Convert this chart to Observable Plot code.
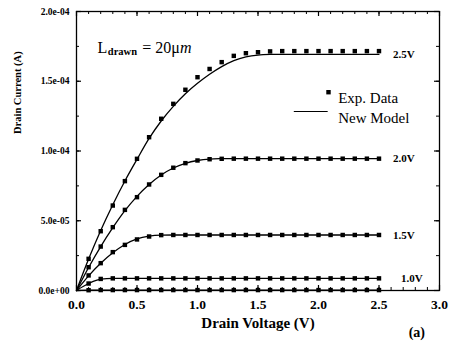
<!DOCTYPE html>
<html><head><meta charset="utf-8">
<script src="https://cdn.jsdelivr.net/npm/d3@7"></script>
<script src="https://cdn.jsdelivr.net/npm/@observablehq/plot@0.6"></script>
<style>body{margin:0;background:#fff} #chart{width:452px;height:356px;position:relative} #chart svg text{font-family:"Liberation Serif","Times New Roman",serif}</style>
</head><body><div id="chart"></div>
<script>
// Drain voltage sample points (V)
const drainV = [0.0,0.1,0.2,0.3,0.4,0.5,0.6,0.7,0.8,0.9,1.0,1.1,1.2,1.3,1.4,1.5,1.6,1.7,1.8,1.9,2.0,2.1,2.2,2.3,2.4,2.5];
const gateNames = ["2.5V","2.0V","1.5V","1.0V","0.5V"];
// Experimental data (A), at drainV[1..25]
const exp25 = [2.27e-5,4.25e-5,6.09e-5,7.84e-5,9.44e-5,1.099e-4,1.231e-4,1.338e-4,1.439e-4,1.529e-4,1.588e-4,1.637e-4,1.682e-4,1.701e-4,1.708e-4,1.714e-4,1.716e-4,1.716e-4,1.716e-4,1.716e-4,1.716e-4,1.716e-4,1.716e-4,1.716e-4,1.716e-4];
const exp20 = [1.67e-5,3.15e-5,4.54e-5,5.78e-5,6.69e-5,7.60e-5,8.29e-5,8.80e-5,9.13e-5,9.32e-5,9.41e-5,9.44e-5,9.45e-5,9.45e-5,9.45e-5,9.45e-5,9.45e-5,9.45e-5,9.45e-5,9.45e-5,9.45e-5,9.45e-5,9.45e-5,9.45e-5,9.45e-5];
const exp15 = [1.08e-5,1.96e-5,2.75e-5,3.27e-5,3.66e-5,3.87e-5,3.97e-5,3.98e-5,3.98e-5,3.98e-5,3.98e-5,3.98e-5,3.98e-5,3.98e-5,3.98e-5,3.98e-5,3.98e-5,3.98e-5,3.98e-5,3.98e-5,3.98e-5,3.98e-5,3.98e-5,3.98e-5,3.98e-5];
const exp10 = [5.0e-6,8.3e-6,8.7e-6,8.7e-6,8.7e-6,8.7e-6,8.7e-6,8.7e-6,8.7e-6,8.7e-6,8.7e-6,8.7e-6,8.7e-6,8.7e-6,8.7e-6,8.7e-6,8.7e-6,8.7e-6,8.7e-6,8.7e-6,8.7e-6,8.7e-6,8.7e-6,8.7e-6,8.7e-6];
const exp05 = [2e-7,3e-7,3e-7,3e-7,3e-7,3e-7,3e-7,3e-7,3e-7,3e-7,3e-7,3e-7,3e-7,3e-7,3e-7,3e-7,3e-7,3e-7,3e-7,3e-7,3e-7,3e-7,3e-7,3e-7,3e-7];
// New model (A), at drainV[0..25]
const model25 = [0,2.25e-5,4.3e-5,6.15e-5,7.85e-5,9.4e-5,1.09e-4,1.215e-4,1.32e-4,1.41e-4,1.485e-4,1.55e-4,1.605e-4,1.648e-4,1.675e-4,1.688e-4,1.692e-4,1.693e-4,1.693e-4,1.693e-4,1.693e-4,1.693e-4,1.693e-4,1.693e-4,1.693e-4,1.693e-4];
const model20 = [0,1.65e-5,3.15e-5,4.5e-5,5.72e-5,6.75e-5,7.6e-5,8.28e-5,8.78e-5,9.12e-5,9.32e-5,9.42e-5,9.45e-5,9.46e-5,9.46e-5,9.46e-5,9.46e-5,9.46e-5,9.46e-5,9.46e-5,9.46e-5,9.46e-5,9.46e-5,9.46e-5,9.46e-5,9.46e-5];
const model15 = [0,1.05e-5,1.95e-5,2.7e-5,3.3e-5,3.7e-5,3.9e-5,3.97e-5,3.98e-5,3.98e-5,3.98e-5,3.98e-5,3.98e-5,3.98e-5,3.98e-5,3.98e-5,3.98e-5,3.98e-5,3.98e-5,3.98e-5,3.98e-5,3.98e-5,3.98e-5,3.98e-5,3.98e-5,3.98e-5];
const model10 = [0,5.0e-6,8.2e-6,8.7e-6,8.7e-6,8.7e-6,8.7e-6,8.7e-6,8.7e-6,8.7e-6,8.7e-6,8.7e-6,8.7e-6,8.7e-6,8.7e-6,8.7e-6,8.7e-6,8.7e-6,8.7e-6,8.7e-6,8.7e-6,8.7e-6,8.7e-6,8.7e-6,8.7e-6,8.7e-6];
const model05 = [0,2e-7,3e-7,3e-7,3e-7,3e-7,3e-7,3e-7,3e-7,3e-7,3e-7,3e-7,3e-7,3e-7,3e-7,3e-7,3e-7,3e-7,3e-7,3e-7,3e-7,3e-7,3e-7,3e-7,3e-7,3e-7];
// Axis ticks
const xTickValues = [0,0.5,1.0,1.5,2.0,2.5,3.0];
const xTickLabels = ["0.0","0.5","1.0","1.5","2.0","2.5","3.0"];
const yTickValues = [0,5e-5,1e-4,1.5e-4,2e-4];
const yTickLabels = ["0.0e+00","5.0e-05","1.0e-04","1.5e-04","2.0e-04"];
const xLabel = "Drain Voltage (V)";
const yLabel = "Drain Current (A)";
const legendNames = ["Exp. Data","New Model"];

const expSeries = [exp25,exp20,exp15,exp10,exp05];
const modelSeries = [model25,model20,model15,model10,model05];
const expRows = [], modelRows = [];
expSeries.forEach((arr,k)=>arr.forEach((v,i)=>expRows.push({vg:gateNames[k], vd:drainV[i+1], id:v})));
modelSeries.forEach((arr,k)=>arr.forEach((v,i)=>modelRows.push({vg:gateNames[k], vd:drainV[i], id:v})));
const curveLabels = gateNames.slice(0,4).map((g,k)=>({g, vd:drainV[drainV.length-1], id:modelSeries[k][modelSeries[k].length-1]}));

const W=452,H=356,mL=76,mR=13,mT=11,mB=66;
const iW=W-mL-mR, iH=H-mT-mB;
const xMinor = d3.range(0,3.0001,0.1);
const yMinor = d3.range(0,2.0001e-4,2.5e-5);
const xMap = new Map(xTickValues.map((v,i)=>[v,xTickLabels[i]]));
const yMap = new Map(yTickValues.map((v,i)=>[v,yTickLabels[i]]));
const serif = "'Liberation Serif', 'Times New Roman', serif";
const T = {fontFamily: serif};

const chart = Plot.plot({
  width: W, height: H,
  marginLeft: mL, marginRight: mR, marginTop: mT, marginBottom: mB,
  style: {fontFamily: serif, background: "white", color: "black"},
  x: {domain: [0,3]},
  y: {domain: [0,2e-4]},
  marks: [
    Plot.line(modelRows, {x:"vd", y:"id", z:"vg", stroke:"black", strokeWidth:1.3, curve:"monotone-x"}),
    Plot.dot(expRows, {x:"vd", y:"id", symbol:"square", r:2.5, fill:"black", stroke:null}),
    Plot.frame({stroke:"black", strokeWidth:1.3}),
    // inward ticks
    Plot.tickX(xMinor, {x:d=>d, insetBottom: iH-3, stroke:"black", strokeWidth:1}),
    Plot.tickX(xMinor, {x:d=>d, insetTop: iH-3, stroke:"black", strokeWidth:1}),
    Plot.tickX(xTickValues, {x:d=>d, insetBottom: iH-5, stroke:"black", strokeWidth:1.2}),
    Plot.tickX(xTickValues, {x:d=>d, insetTop: iH-5, stroke:"black", strokeWidth:1.2}),
    Plot.tickY(yMinor, {y:d=>d, insetRight: iW-3, stroke:"black", strokeWidth:1}),
    Plot.tickY(yMinor, {y:d=>d, insetLeft: iW-3, stroke:"black", strokeWidth:1}),
    Plot.tickY(yTickValues, {y:d=>d, insetRight: iW-5, stroke:"black", strokeWidth:1.2}),
    Plot.tickY(yTickValues, {y:d=>d, insetLeft: iW-5, stroke:"black", strokeWidth:1.2}),
    Plot.axisX(xTickValues, {...T, tickSize:0, tickPadding:9, tickFormat:d=>xMap.get(d), fontSize:13.5, fontWeight:"bold", label:null}),
    Plot.axisY(yTickValues, {...T, tickSize:0, tickPadding:7, tickFormat:d=>yMap.get(d), fontSize:9.5, fontWeight:"bold", label:null}),
    // axis titles
    Plot.text([xLabel], {...T, frameAnchor:"bottom", dy:37.5, fontSize:15, fontWeight:"bold"}),
    Plot.text([yLabel], {...T, frameAnchor:"left", dx:-59, dy:-17, rotate:-90, fontSize:10.5, fontWeight:"bold"}),
    Plot.text(["(a)"], {...T, frameAnchor:"bottom-right", dx:-14.5, dy:46, fontSize:14, fontWeight:"bold"}),
    // L_drawn annotation
    Plot.text(["L"], {...T, frameAnchor:"top-left", dx:21, dy:30.6, textAnchor:"start", fontSize:16}),
    Plot.text(["drawn"], {...T, frameAnchor:"top-left", dx:31.3, dy:35.6, textAnchor:"start", fontSize:10.5, fontWeight:"bold"}),
    Plot.text(["= 20\u03bc"], {...T, frameAnchor:"top-left", dx:65.7, dy:30.6, textAnchor:"start", fontSize:16}),
    Plot.text(["m"], {...T, frameAnchor:"top-left", dx:103.5, dy:30.6, textAnchor:"start", fontSize:16, fontStyle:"italic"}),
    // legend
    Plot.dot([0], {frameAnchor:"top-left", dx:252, dy:80.7, symbol:"square", r:2.5, fill:"black", stroke:null}),
    Plot.text([legendNames[0]], {...T, frameAnchor:"top-left", dx:261.7, dy:80.9, textAnchor:"start", fontSize:15}),
    Plot.ruleY([1.283e-4], {y:d=>d, x1:1.80, x2:2.08, stroke:"black", strokeWidth:1.2}),
    Plot.text([legendNames[1]], {...T, frameAnchor:"top-left", dx:261.7, dy:100.9, textAnchor:"start", fontSize:15}),
    // curve labels
    Plot.text(curveLabels, {...T, x:"vd", y:"id", text:"g", textAnchor:"start", fontSize:11, fontWeight:"bold", filter:d=>d.g!=="1.0V", dx:14}),
    Plot.text(curveLabels, {...T, x:"vd", y:"id", text:"g", textAnchor:"start", fontSize:11, fontWeight:"bold", filter:d=>d.g==="1.0V", dx:22})
  ]
});
document.getElementById("chart").appendChild(chart);
</script>
</body></html>
